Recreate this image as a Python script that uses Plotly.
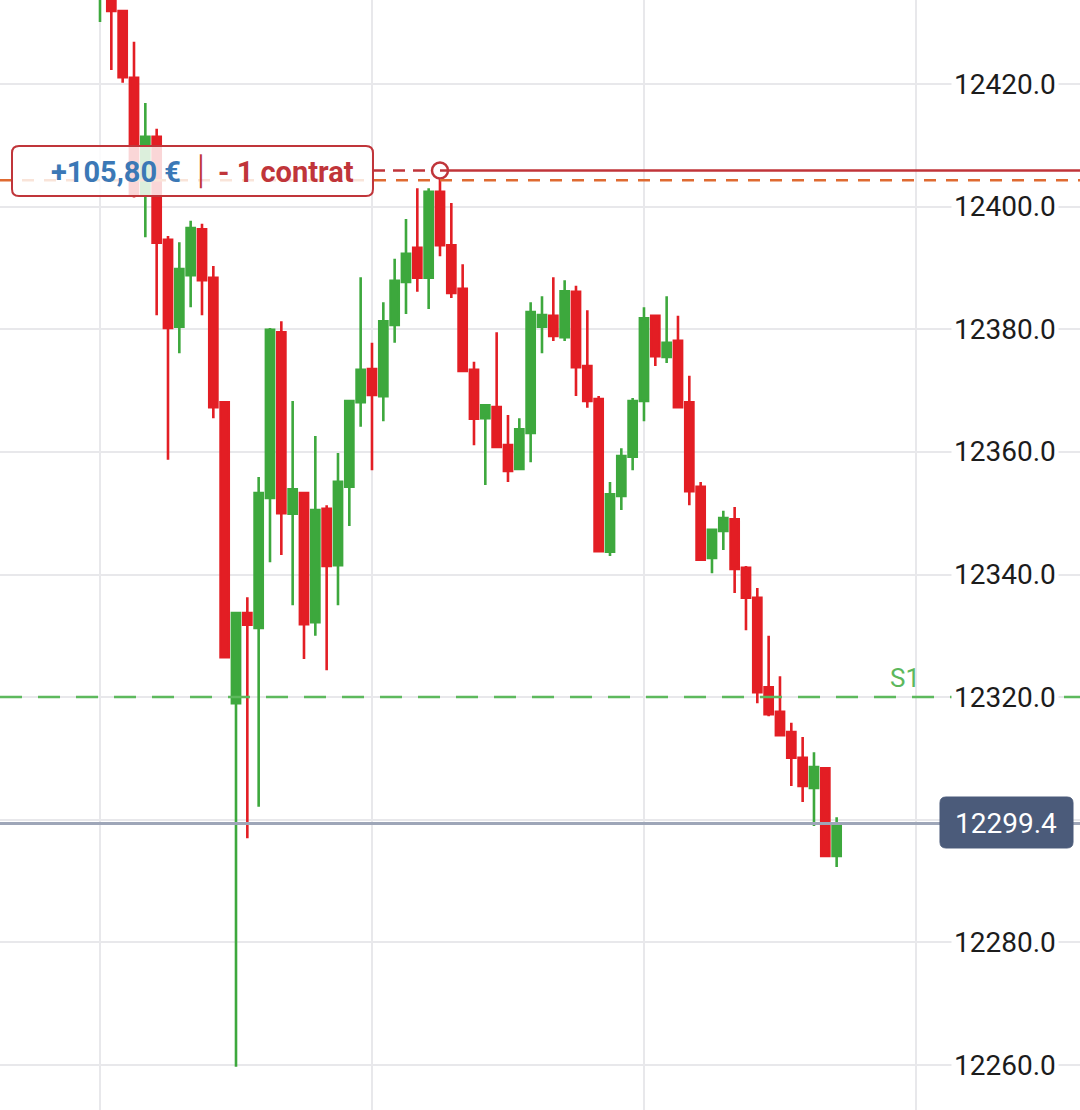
import plotly.graph_objects as go

# ---------------- data ----------------
candle_index = list(range(66))
opens = [12436.0, 12437.0, 12431.9, 12421.0, 12401.9, 12411.4, 12394.6, 12380.4, 12388.8, 12396.3,
         12388.4, 12368.1, 12319.0, 12333.7, 12331.3, 12352.5, 12379.5, 12349.9, 12353.3, 12332.2,
         12350.7, 12341.5, 12354.3, 12368.1, 12373.5, 12369.1, 12380.7, 12387.7, 12393.3, 12388.4,
         12402.4, 12393.7, 12386.6, 12373.4, 12365.5, 12367.3, 12361.1, 12357.2, 12363.1, 12380.4,
         12382.2, 12378.7, 12386.1, 12374.0, 12368.6, 12343.7, 12352.8, 12359.2, 12368.3, 12382.2,
         12375.5, 12378.1, 12368.1, 12354.3, 12342.7, 12347.1, 12349.0, 12341.1, 12336.2, 12321.6,
         12317.6, 12314.3, 12310.1, 12305.2, 12308.4, 12294.1]
highs = [12442.0, 12438.0, 12431.9, 12426.9, 12416.9, 12412.7, 12395.2, 12394.2, 12397.7, 12397.2,
         12390.3, 12368.1, 12333.7, 12336.3, 12355.9, 12380.2, 12381.3, 12368.3, 12353.3, 12362.6,
         12351.3, 12359.8, 12368.5, 12388.5, 12377.8, 12384.4, 12391.5, 12398.0, 12403.0, 12403.0,
         12405.0, 12400.6, 12390.6, 12374.7, 12367.6, 12379.5, 12366.0, 12365.5, 12384.4, 12385.4,
         12388.5, 12388.0, 12387.1, 12383.1, 12369.1, 12355.1, 12360.6, 12368.8, 12383.6, 12382.4,
         12385.4, 12382.2, 12372.4, 12355.1, 12347.3, 12350.4, 12351.0, 12341.4, 12337.8, 12330.0,
         12323.4, 12315.8, 12313.5, 12311.0, 12308.6, 12300.4]
lows = [12430.1, 12422.3, 12420.2, 12401.5, 12395.0, 12382.3, 12358.7, 12376.1, 12383.6, 12382.3,
        12365.5, 12326.5, 12259.7, 12297.0, 12302.1, 12342.0, 12343.2, 12335.0, 12326.2, 12330.0,
        12324.4, 12335.0, 12347.9, 12364.1, 12357.0, 12365.0, 12377.8, 12382.5, 12386.1, 12383.3,
        12391.9, 12385.1, 12373.0, 12361.1, 12354.6, 12360.8, 12355.1, 12357.0, 12358.3, 12376.1,
        12378.1, 12378.1, 12369.1, 12367.2, 12343.6, 12343.0, 12350.5, 12357.0, 12365.0, 12374.0,
        12374.5, 12367.1, 12351.3, 12342.2, 12340.2, 12344.0, 12337.0, 12330.9, 12319.0, 12316.9,
        12313.6, 12305.5, 12302.9, 12299.0, 12293.9, 12292.3]
closes = [12440.0, 12431.9, 12421.1, 12401.9, 12411.4, 12394.1, 12380.2, 12389.8, 12396.5, 12388.0,
          12367.3, 12326.5, 12333.7, 12331.8, 12353.3, 12379.9, 12350.0, 12353.9, 12331.9, 12350.5,
          12341.4, 12355.1, 12368.3, 12373.4, 12369.3, 12381.3, 12387.9, 12392.3, 12388.4, 12402.4,
          12393.7, 12385.9, 12373.2, 12365.4, 12367.6, 12360.8, 12356.9, 12363.7, 12382.8, 12382.3,
          12378.9, 12386.2, 12373.8, 12368.3, 12343.8, 12353.1, 12359.3, 12368.3, 12381.8, 12375.6,
          12377.8, 12367.3, 12353.6, 12342.4, 12347.3, 12349.2, 12340.9, 12336.2, 12320.8, 12317.2,
          12313.8, 12310.1, 12305.5, 12308.6, 12294.1, 12299.4]

y_ticks = [12260, 12280, 12300, 12320, 12340, 12360, 12380, 12400, 12420]
y_labels = ["12260.0", "12280.0", "", "12320.0", "12340.0", "12360.0", "12380.0", "12400.0", "12420.0"]
x_grid = [0, 24, 48, 72]

last_price = 12299.4
last_label = "12299.4"
support_price = 12320.0
support_label = "S1"
trade_price = 12405.9
trade_index = 30
order_price = 12404.3
pnl_text = "+105,80 €"
contract_text = "- 1 contrat"

# ---------------- styles ----------------
W, H = 1080, 1110
GREEN = "#3da83d"
RED = "#e31e24"
GRID = "#e8e8eb"
TRADE_RED = "#c0353a"
ORANGE = "#df6a31"
FONT = "Roboto"


def px(x):
    return x / W


def py(y):
    return 1 - y / H


def rrect(x0, y0, x1, y1, r):
    def P(x, y):
        return f"{px(x):.5f},{py(y):.5f}"
    return (f"M {P(x0 + r, y0)} L {P(x1 - r, y0)} Q {P(x1, y0)} {P(x1, y0 + r)} "
            f"L {P(x1, y1 - r)} Q {P(x1, y1)} {P(x1 - r, y1)} L {P(x0 + r, y1)} "
            f"Q {P(x0, y1)} {P(x0, y1 - r)} L {P(x0, y0 + r)} Q {P(x0, y0)} {P(x0 + r, y0)} Z")


fig = go.Figure()

fig.add_trace(go.Candlestick(
    x=candle_index, open=opens, high=highs, low=lows, close=closes,
    increasing=dict(line=dict(color=GREEN, width=2.6), fillcolor=GREEN),
    decreasing=dict(line=dict(color=RED, width=2.6), fillcolor=RED),
    whiskerwidth=0, showlegend=False, hoverinfo="skip",
))

shapes = []
shapes.append(dict(type="line", xref="paper", yref="y", x0=0, x1=1, y0=order_price, y1=order_price,
                   line=dict(color=ORANGE, width=2.5, dash="12px,10px"), layer="above"))
shapes.append(dict(type="line", xref="paper", yref="y", x0=0, x1=1, y0=support_price, y1=support_price,
                   line=dict(color="#5db95d", width=2.5, dash="22px,16px"), layer="above"))
shapes.append(dict(type="line", xref="paper", yref="y", x0=0, x1=1, y0=last_price, y1=last_price,
                   line=dict(color="#9ea6b8", width=3), layer="above"))
shapes.append(dict(type="line", xref="paper", yref="y", x0=px(373), x1=px(432), y0=trade_price, y1=trade_price,
                   line=dict(color=TRADE_RED, width=2.5, dash="12px,8px"), layer="above"))
shapes.append(dict(type="line", xref="x", yref="y", x0=trade_index, x1=100, y0=trade_price, y1=trade_price,
                   line=dict(color=TRADE_RED, width=2.5), layer="above"))
shapes.append(dict(type="path", xref="paper", yref="paper", path=rrect(12, 146, 373, 196, 7),
                   fillcolor="rgba(255,255,255,0.82)", line=dict(color=TRADE_RED, width=2), layer="above"))
shapes.append(dict(type="path", xref="paper", yref="paper", path=rrect(940, 797, 1073, 848, 6),
                   fillcolor="#4b5b7a", line=dict(color="#4b5b7a", width=1), layer="above"))
fig.update_layout(shapes=shapes)

fig.add_trace(go.Scatter(x=[trade_index], y=[trade_price], mode="markers",
                         marker=dict(symbol="circle", size=16, color="white",
                                     line=dict(color=TRADE_RED, width=2.5)),
                         showlegend=False, hoverinfo="skip"))

annotations = []
for v, lab in zip(y_ticks, y_labels):
    if not lab:
        continue
    annotations.append(dict(x=px(1005), y=v, xref="paper", yref="y", text=lab, showarrow=False,
                            font=dict(family=FONT, size=28, color="#1c1c1c"),
                            bgcolor="white", borderpad=2, xanchor="center", yanchor="middle"))
annotations.append(dict(x=px(1006), y=last_price, xref="paper", yref="y", text=last_label, showarrow=False,
                        font=dict(family=FONT, size=28, color="white"), xanchor="center", yanchor="middle"))
annotations.append(dict(x=px(905), y=support_price, xref="paper", yref="y", text=support_label,
                        showarrow=False, font=dict(family=FONT, size=26, color="#5cb85c"),
                        xanchor="center", yanchor="bottom", yshift=2))
annotations.append(dict(x=px(116), y=py(172), xref="paper", yref="paper",
                        text=f"<b>{pnl_text}</b>", showarrow=False,
                        font=dict(family=FONT, size=29, color="#3b78b6"),
                        xanchor="center", yanchor="middle"))
annotations.append(dict(x=px(201), y=py(172), xref="paper", yref="paper",
                        text="│", showarrow=False,
                        font=dict(family=FONT, size=28, color=TRADE_RED),
                        xanchor="center", yanchor="middle"))
annotations.append(dict(x=px(286), y=py(172), xref="paper", yref="paper",
                        text=f"<b>{contract_text}</b>", showarrow=False,
                        font=dict(family=FONT, size=29, color=TRADE_RED),
                        xanchor="center", yanchor="middle"))

fig.update_layout(
    annotations=annotations,
    width=W, height=H,
    margin=dict(l=0, r=0, t=0, b=0),
    paper_bgcolor="white", plot_bgcolor="white",
    boxgap=0.28, boxgroupgap=0,
    showlegend=False,
    xaxis=dict(range=[(0 - 100) / 11.333, (W - 100) / 11.333], tickvals=x_grid, showticklabels=False,
               showgrid=True, gridcolor=GRID, gridwidth=2, zeroline=False, showline=False,
               rangeslider=dict(visible=False), fixedrange=True),
    yaxis=dict(range=[12252.66, 12433.7], tickvals=y_ticks, showticklabels=False,
               showgrid=True, gridcolor=GRID, gridwidth=2, zeroline=False, showline=False, fixedrange=True),
)

fig.write_html("out.html", config=dict(displayModeBar=False),
               post_script="document.body.style.margin='0';document.body.style.overflow='hidden';")
